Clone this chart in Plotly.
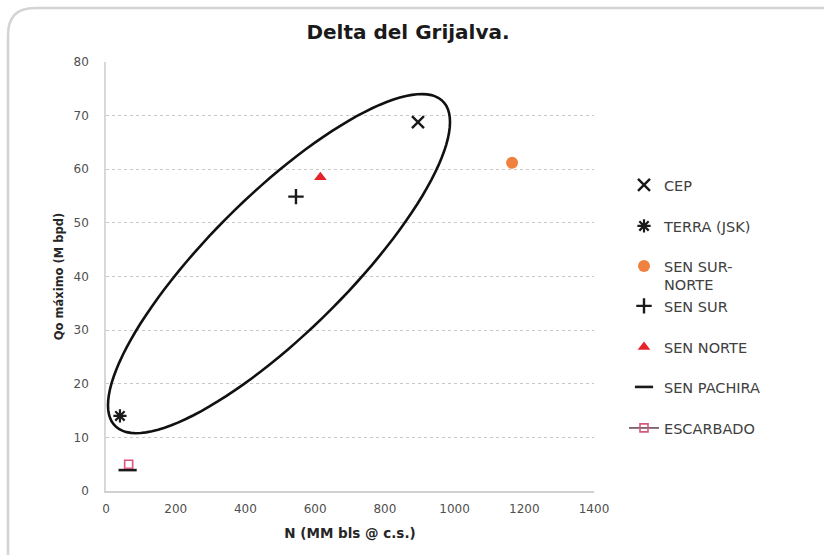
import numpy as np
import plotly.graph_objects as go

# --- data -------------------------------------------------------------
series_names = ["CEP", "TERRA (JSK)", "SEN SUR-<br>NORTE", "SEN SUR",
                "SEN NORTE", "SEN PACHIRA", "ESCARBADO"]
n_values = [895, 40, 1165, 545, 615, 62, 65]           # N (MM bls @ c.s.)
qo_values = [68.8, 14.0, 61.2, 54.9, 58.5, 3.9, 5.0]   # Qo maximo (M bpd)

x_ticks = [0, 200, 400, 600, 800, 1000, 1200, 1400]
y_ticks = [0, 10, 20, 30, 40, 50, 60, 70, 80]

# outline grouping the correlated fields: centre and two conjugate half-axes
ellipse_center = (496.3, 42.4)
ellipse_axis_a = (490.6, 26.4)
ellipse_axis_b = (0.0, 17.4)

# --- geometry of the figure ------------------------------------------
W, H = 824, 555
L, R, T, B = 106, 230, 62, 64
PW, PH = W - L - R, H - T - B

FONT = "DejaVu Sans, Verdana, sans-serif"


def px(x, y):
    """pixel position -> paper coordinates"""
    return (x - L) / PW, (H - B - y) / PH


styles = [
    dict(symbol="x-thin", size=12, color="#1a1a1a", line=dict(width=2.4, color="#1a1a1a")),
    dict(symbol="asterisk", size=11, color="#1a1a1a", line=dict(width=2.2, color="#1a1a1a")),
    dict(symbol="circle", size=12, color="#F0813E", line=dict(width=0)),
    dict(symbol="cross-thin", size=11, color="#1a1a1a", line=dict(width=2.4, color="#1a1a1a")),
    dict(symbol="triangle-up", size=11, color="#E4232B", line=dict(width=0)),
    dict(symbol="line-ew", size=13, color="#1a1a1a", line=dict(width=2.6, color="#1a1a1a")),
    dict(symbol="square-open", size=8, color="#D9557A", line=dict(width=1.6, color="#D9557A")),
]
legend_rows = [184, 225, 265, 305, 346, 386, 427]

fig = go.Figure()
for i, (name, xv, yv, st) in enumerate(zip(series_names, n_values, qo_values, styles)):
    lg = "legend" if i == 0 else f"legend{i + 1}"
    mode = "lines+markers" if name == "ESCARBADO" else "markers"
    fig.add_trace(go.Scatter(
        x=[xv], y=[yv], name=name, mode=mode,
        marker=dict(symbol=st["symbol"], size=st["size"], color=st["color"], line=st["line"]),
        line=dict(color="#6b4a5a", width=1.6),
        legend=lg, showlegend=True, cliponaxis=False,
    ))

legend_font = dict(family=FONT, size=14.5, color="#404040")
legends = {}
for i, row in enumerate(legend_rows):
    key = "legend" if i == 0 else f"legend{i + 1}"
    lx, ly = px(624, row - 15)
    legends[key] = dict(x=lx, y=ly, xanchor="left", yanchor="top", valign="top",
                        bgcolor="rgba(0,0,0,0)", borderwidth=0, font=legend_font,
                        itemclick=False, itemdoubleclick=False)

# ellipse outline as an SVG path in data units
t = np.linspace(0, 2 * np.pi, 121)
ex = ellipse_center[0] + ellipse_axis_a[0] * np.cos(t) + ellipse_axis_b[0] * np.sin(t)
ey = ellipse_center[1] + ellipse_axis_a[1] * np.cos(t) + ellipse_axis_b[1] * np.sin(t)
ellipse_path = "M " + " L ".join(f"{a:.2f},{b:.3f}" for a, b in zip(ex, ey)) + " Z"

# rounded card border around the chart (open at right and bottom)
r = 27
x0, y0, x1, y1 = 8, 8, W + 10, H + 10
p = [px(x0, y1), px(x0, y0 + r), px(x0, y0), px(x0 + r, y0), px(x1, y0)]
card_path = (f"M {p[0][0]},{p[0][1]} L {p[1][0]},{p[1][1]} "
             f"Q {p[2][0]},{p[2][1]} {p[3][0]},{p[3][1]} L {p[4][0]},{p[4][1]}")

fig.update_layout(
    width=W, height=H,
    margin=dict(l=L, r=R, t=T, b=B),
    paper_bgcolor="white", plot_bgcolor="white",
    font=dict(family=FONT, size=12, color="#505050"),
    title=dict(text="<b>Delta del Grijalva.</b>", x=408 / W, xref="container", xanchor="center",
               y=1 - 32 / H, yanchor="middle",
               font=dict(family=FONT, size=20, color="#1a1a1a")),
    xaxis=dict(range=[0, 1400], tickvals=x_ticks, ticktext=[str(v) for v in x_ticks],
               showgrid=False, zeroline=False, showline=True, linecolor="#d0d0d0", linewidth=1.5,
               ticks="", ticklabelstandoff=6,
               tickfont=dict(family=FONT, size=12, color="#505050"),
               title=dict(text="<b>N (MM bls @ c.s.)</b>", standoff=13,
                          font=dict(family=FONT, size=13.5, color="#262626"))),
    yaxis=dict(range=[0, 80], tickvals=y_ticks, ticktext=[str(v) for v in y_ticks],
               showgrid=True, gridcolor="#c8c8c8", griddash="dot", gridwidth=1.2,
               zeroline=False, showline=True, linecolor="#d8d8d8", linewidth=1.5,
               ticks="", ticklabelstandoff=13,
               tickfont=dict(family=FONT, size=12, color="#505050"),
               title=dict(text="<b>Qo máximo (M bpd)</b>", standoff=8,
                          font=dict(family=FONT, size=11.5, color="#262626"))),
    shapes=[
        dict(type="path", xref="x", yref="y", path=ellipse_path,
             line=dict(color="#111111", width=2.6), fillcolor="rgba(0,0,0,0)", layer="above"),
        dict(type="path", xref="paper", yref="paper", path=card_path,
             line=dict(color="#d4d4d4", width=2.5), layer="below"),
    ],
    **legends,
)

fig.write_html("out.html")
